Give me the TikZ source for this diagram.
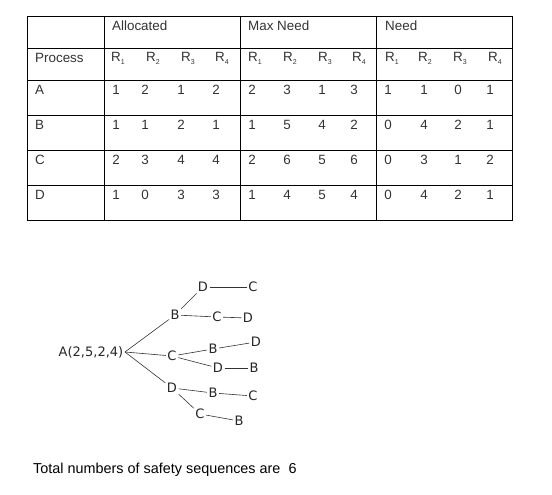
\documentclass[tikz,border=0pt]{standalone}
\usepackage{fontspec}
\setmainfont{Liberation Sans}
\newfontfamily\treefont{DejaVu Sans}
\begin{document}
\begin{tikzpicture}[x=1pt,y=-1pt,
  grid/.style={line width=0.8pt},
  cell/.style={inner sep=0pt,font=\fontsize{13.4}{15}\selectfont,text=black!80},
  leaf/.style={inner sep=1.5pt,font=\treefont\fontsize{13}{15}\selectfont,text=black!85},
  link/.style={line width=0.6pt,black!80}]
  \useasboundingbox (0,0) rectangle (552,495);

  % table frame
  \draw [grid] (27,16) rectangle (512,220);
  \foreach \y in {48,80,115,150,185} \draw [grid] (27,\y) -- (512,\y);
  \foreach \x in {104,240,376} \draw [grid] (\x,16) -- (\x,220);

  % header texts
  \node [cell,anchor=west] (hdAlloc) at (112,26) {Allocated};
  \node [cell,anchor=west] (hdMax) at (248,26) {Max Need};
  \node [cell,anchor=west] (hdNeed) at (385,26) {Need};
  \node [cell,anchor=west] (hdProc) at (35,58) {Process};
  \foreach \x [count=\i] in {111,146,181,215,248,283,318,352,385,418,453,488} {
    \pgfmathtruncatemacro\k{mod(\i-1,4)+1}
    \node [cell,anchor=west] (res\i) at (\x,58) {R\raisebox{-3pt}{\fontsize{7}{8}\selectfont\k}};
  }

  % rows
  \foreach \r/\y/\vals in {A/90/{1,2,1,2,2,3,1,3,1,1,0,1},
                          B/125/{1,1,2,1,1,5,4,2,0,4,2,1},
                          C/160/{2,3,4,4,2,6,5,6,0,3,1,2},
                          D/195/{1,0,3,3,1,4,5,4,0,4,2,1}} {
    \node [cell,anchor=west] (row\r) at (35,\y) {\r};
    \foreach \v [count=\i] in \vals {
      \pgfmathsetmacro\cx{{116,145,181,216,252,287,322,354,388,424,458,490}[\i-1]}
      \node [cell] (val\r\i) at (\cx,\y) {\v};
    }
  }

  % tree of safe sequences
  \node [leaf] (root) at (91,352) {A(2,5,2,4)};
  \node [leaf] (b1) at (175,315) {B};
  \node [leaf] (c1) at (172,356) {C};
  \node [leaf] (d1) at (172,388) {D};
  \node [leaf] (bd) at (203,287) {D};
  \node [leaf] (bdc) at (253,287) {C};
  \node [leaf] (bc) at (217,317) {C};
  \node [leaf] (bcd) at (248,318) {D};
  \node [leaf] (cb) at (213,349) {B};
  \node [leaf] (cbd) at (256,342) {D};
  \node [leaf] (cd) at (218,368) {D};
  \node [leaf] (cdb) at (254,368) {B};
  \node [leaf] (db) at (213,393) {B};
  \node [leaf] (dbc) at (253,396) {C};
  \node [leaf] (dc) at (200,414) {C};
  \node [leaf] (dcb) at (239,421) {B};

  \draw [link] (root.east) -- (b1);
  \draw [link] (root.east) -- (c1);
  \draw [link] (root.east) -- (d1);
  \draw [link] (b1) -- (bd);
  \draw [link] (bd) -- (bdc);
  \draw [link] (b1) -- (bc);
  \draw [link] (bc) -- (bcd);
  \draw [link] (c1) -- (cb);
  \draw [link] (cb) -- (cbd);
  \draw [link] (c1) -- (cd);
  \draw [link] (cd) -- (cdb);
  \draw [link] (d1) -- (db);
  \draw [link] (db) -- (dbc);
  \draw [link] (d1) -- (dc);
  \draw [link] (dc) -- (dcb);

  \node [cell,anchor=west,text=black,font=\fontsize{14.4}{16}\selectfont] (total) at (33,470) {Total numbers of safety sequences are\ \ 6};
\end{tikzpicture}
\end{document}
